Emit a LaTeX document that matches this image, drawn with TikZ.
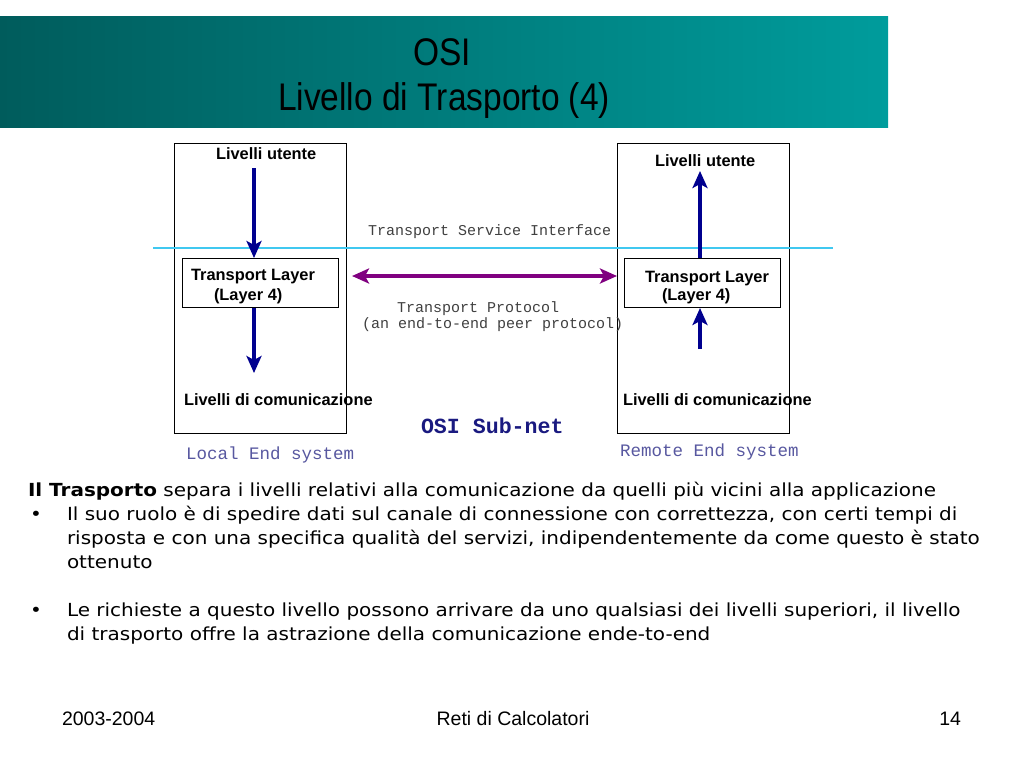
\documentclass[tikz,border=0pt]{standalone}
\usepackage{fontspec}
\setmainfont{Liberation Sans}
\newfontfamily\titlefont[FakeStretch=0.87]{Liberation Sans}
\newfontfamily\bodyfont[FakeStretch=1.11]{DejaVu Sans}
\newfontfamily\monofont{Liberation Mono}
\usetikzlibrary{arrows.meta}
\definecolor{tealdark}{HTML}{005C5C}
\definecolor{teallight}{HTML}{009C9C}
\definecolor{navy}{HTML}{00008F}
\definecolor{purp}{HTML}{800080}
\definecolor{cyanline}{HTML}{40C8F0}
\definecolor{monogray}{HTML}{404040}
\definecolor{slate}{HTML}{5858A0}
\definecolor{subnet}{HTML}{1A1A80}
\tikzset{
  txt/.style={inner sep=0pt, outer sep=0pt},
  lbl/.style={txt, font=\fontsize{16.4}{18}\selectfont\bfseries},
  mono/.style={txt, font=\monofont\fontsize{15}{17}\selectfont, text=monogray},
  sysl/.style={txt, font=\monofont\fontsize{17.5}{19}\selectfont, text=slate},
  body/.style={txt, font=\bodyfont\fontsize{18}{20}\selectfont},
  foot/.style={txt, font=\fontsize{19.5}{22}\selectfont},
  sysbox/.style={draw, line width=1pt, minimum width=172pt, minimum height=290pt, anchor=north west, inner sep=0pt},
  tlbox/.style={draw, line width=1pt, minimum width=156pt, minimum height=49pt, anchor=north west, inner sep=0pt},
  flow/.style={navy, line width=4pt, -{Stealth[length=17pt,width=15pt,inset=4pt]}},
  peer/.style={purp, line width=4pt, {Stealth[length=17pt,width=15pt,inset=4pt]}-{Stealth[length=17pt,width=15pt,inset=4pt]}},
}
\begin{document}
\begin{tikzpicture}[x=1pt,y=-1pt]
\useasboundingbox[fill=white] (0,0) rectangle (1024,768);
% header
\shade[left color=tealdark, right color=teallight] (0,17) rectangle (888,127);
\node[txt, font=\titlefont\fontsize{38.5}{40}\selectfont, anchor=base] (t1) at (442,65) {OSI};
\node[txt, font=\titlefont\fontsize{38.5}{40}\selectfont, anchor=base] (t2) at (444,110) {Livello di Trasporto (4)};
% boxes
\node[sysbox] (lbox) at (174,143) {};
\node[sysbox] (rbox) at (617,143) {};
\node[tlbox] (ltl) at (182,258) {};
\node[tlbox] (rtl) at (624,258) {};
% service interface line
\coordinate (sil) at (153,248);
\coordinate (sir) at (833,248);
\draw[cyanline, line width=2pt] (sil) -- (sir);
% labels
\node[lbl, anchor=base west] (lu) at (216,159) {Livelli utente};
\node[lbl, anchor=base west] (ru) at (655,166) {Livelli utente};
\node[lbl, anchor=base west] (ltl1) at (191,280) {Transport Layer};
\node[lbl, anchor=base west] (ltl2) at (214,300) {(Layer 4)};
\node[lbl, anchor=base west] (rtl1) at (645,282) {Transport Layer};
\node[lbl, anchor=base west] (rtl2) at (662,300) {(Layer 4)};
\node[lbl, anchor=base west] (lc) at (184,405) {Livelli di comunicazione};
\node[lbl, anchor=base west] (rc) at (623,405) {Livelli di comunicazione};
\node[mono, anchor=base west] (tsi) at (368,235) {Transport Service Interface};
\node[mono, anchor=base west] (tp1) at (397,312) {Transport Protocol};
\node[mono, anchor=base west] (tp2) at (362,328) {(an end-to-end peer protocol)};
\node[txt, font=\monofont\fontsize{21.6}{23}\selectfont\bfseries, text=subnet, anchor=base west] (sub) at (421,433) {OSI Sub-net};
\node[sysl, anchor=base west] (les) at (186,459) {Local End system};
\node[sysl, anchor=base west] (res) at (620,456) {Remote End system};
% arrows
\coordinate (a1) at (254,168);
\coordinate (a2) at (254,373);
\coordinate (a3) at (700,171);
\coordinate (a4) at (700,349);
\draw[flow] (a1) -- (a1 |- ltl.north);
\draw[flow] (ltl.south -| a2) -- (a2);
\draw[flow] (rtl.north -| a3) -- (a3);
\draw[flow] (a4) -- (rtl.south -| a4);
\coordinate (pl) at (352,276);
\draw[peer] (pl) -- (rbox.west |- pl);
% body text
\node[body, anchor=base west] (b1) at (28,496) {\textbf{Il Trasporto} separa i livelli relativi alla comunicazione da quelli più vicini alla applicazione};
\node[body, anchor=base west] (bu1) at (30,520) {•};
\node[body, anchor=base west] (b2) at (67,520) {Il suo ruolo è di spedire dati sul canale di connessione con correttezza, con certi tempi di};
\node[body, anchor=base west] (b3) at (67,544) {risposta e con una specifica qualità del servizi, indipendentemente da come questo è stato};
\node[body, anchor=base west] (b4) at (67,568) {ottenuto};
\node[body, anchor=base west] (bu2) at (30,616) {•};
\node[body, anchor=base west] (b5) at (67,616) {Le richieste a questo livello possono arrivare da uno qualsiasi dei livelli superiori, il livello};
\node[body, anchor=base west] (b6) at (67,640) {di trasporto offre la astrazione della comunicazione ende-to-end};
% footer
\node[foot, anchor=base west] (f1) at (62,725) {2003-2004};
\node[foot, anchor=base] (f2) at (513,725) {Reti di Calcolatori};
\node[foot, anchor=base east] (f3) at (961,725) {14};
\end{tikzpicture}
\end{document}
